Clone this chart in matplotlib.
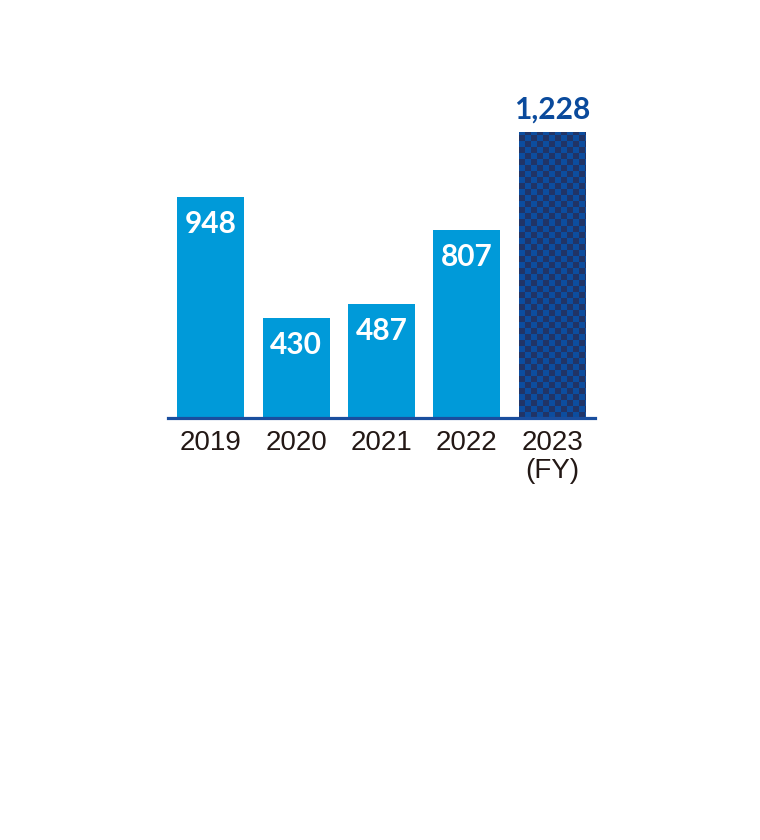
import numpy as np
import matplotlib.pyplot as plt
from matplotlib.colors import ListedColormap

years = ['2019', '2020', '2021', '2022', '2023\n(FY)']
values = [948, 430, 487, 807, 1228]
value_labels = ['948', '430', '487', '807', '1,228']

light_blue = '#009ad9'
navy = '#0a4a9c'
check_dark = '#213466'
check_light = '#0c4d9f'

fig = plt.figure(figsize=(7.6, 8.4), dpi=100)
W, H = 760, 840
# axes placed in pixel units: left 168, right 595, baseline 418, top 80
ax = fig.add_axes([168 / W, (H - 418) / H, (595 - 168) / W, (418 - 80) / H])

x = np.arange(len(values))
width = 0.784
ax.bar(x[:-1], values[:-1], width=width, color=light_blue, zorder=2)

# last bar gets a checker pattern, clipped to the bar
last = ax.bar(x[-1], values[-1], width=width, color=check_light, zorder=2)[0]
px_per_x = (595 - 168) / 5.0
px_per_y = (418 - 80) / 1450.0
sq = 6.0
nx = int(np.ceil(width * px_per_x / sq))
ny = int(np.ceil(values[-1] * px_per_y / sq))
checker = (np.add.outer(np.arange(ny), np.arange(nx)) % 2).astype(float)
cmap = ListedColormap([check_dark, check_light])
x0 = x[-1] - width / 2
img = ax.imshow(checker, cmap=cmap, origin='lower', interpolation='nearest',
                extent=[x0, x0 + nx * sq / px_per_x, 0, ny * sq / px_per_y],
                aspect='auto', zorder=3)
img.set_clip_path(last)
ax.set_xlim(-0.5, 4.5)
ax.set_ylim(0, 1450)

val_font = ['Lato', 'DejaVu Sans']
for i, (v, lab) in enumerate(zip(values, value_labels)):
    if i < len(values) - 1:
        ax.annotate(lab, (x[i], v), xytext=(0, -27 * 0.72), textcoords='offset points',
                    ha='center', va='center', color='white', fontsize=21.5,
                    fontweight='bold', family=val_font, zorder=4)
    else:
        ax.annotate(lab, (x[i], v), xytext=(0, 22 * 0.72), textcoords='offset points',
                    ha='center', va='center', color=navy, fontsize=21.5,
                    fontweight='bold', family=val_font, zorder=4)

for s in ['top', 'right', 'left']:
    ax.spines[s].set_visible(False)
ax.spines['bottom'].set_color('#1a4e9e')
ax.spines['bottom'].set_linewidth(2.3)
ax.spines['bottom'].set_zorder(5)
ax.set_yticks([])
ax.set_xticks(x)
ax.set_xticklabels(years, fontsize=20, color='#231815',
                   family=['Liberation Sans Narrow', 'Liberation Sans', 'DejaVu Sans'],
                   linespacing=1.1)
ax.tick_params(axis='x', length=0, pad=9)

fig.savefig('out.png', dpi=100, facecolor='white')
